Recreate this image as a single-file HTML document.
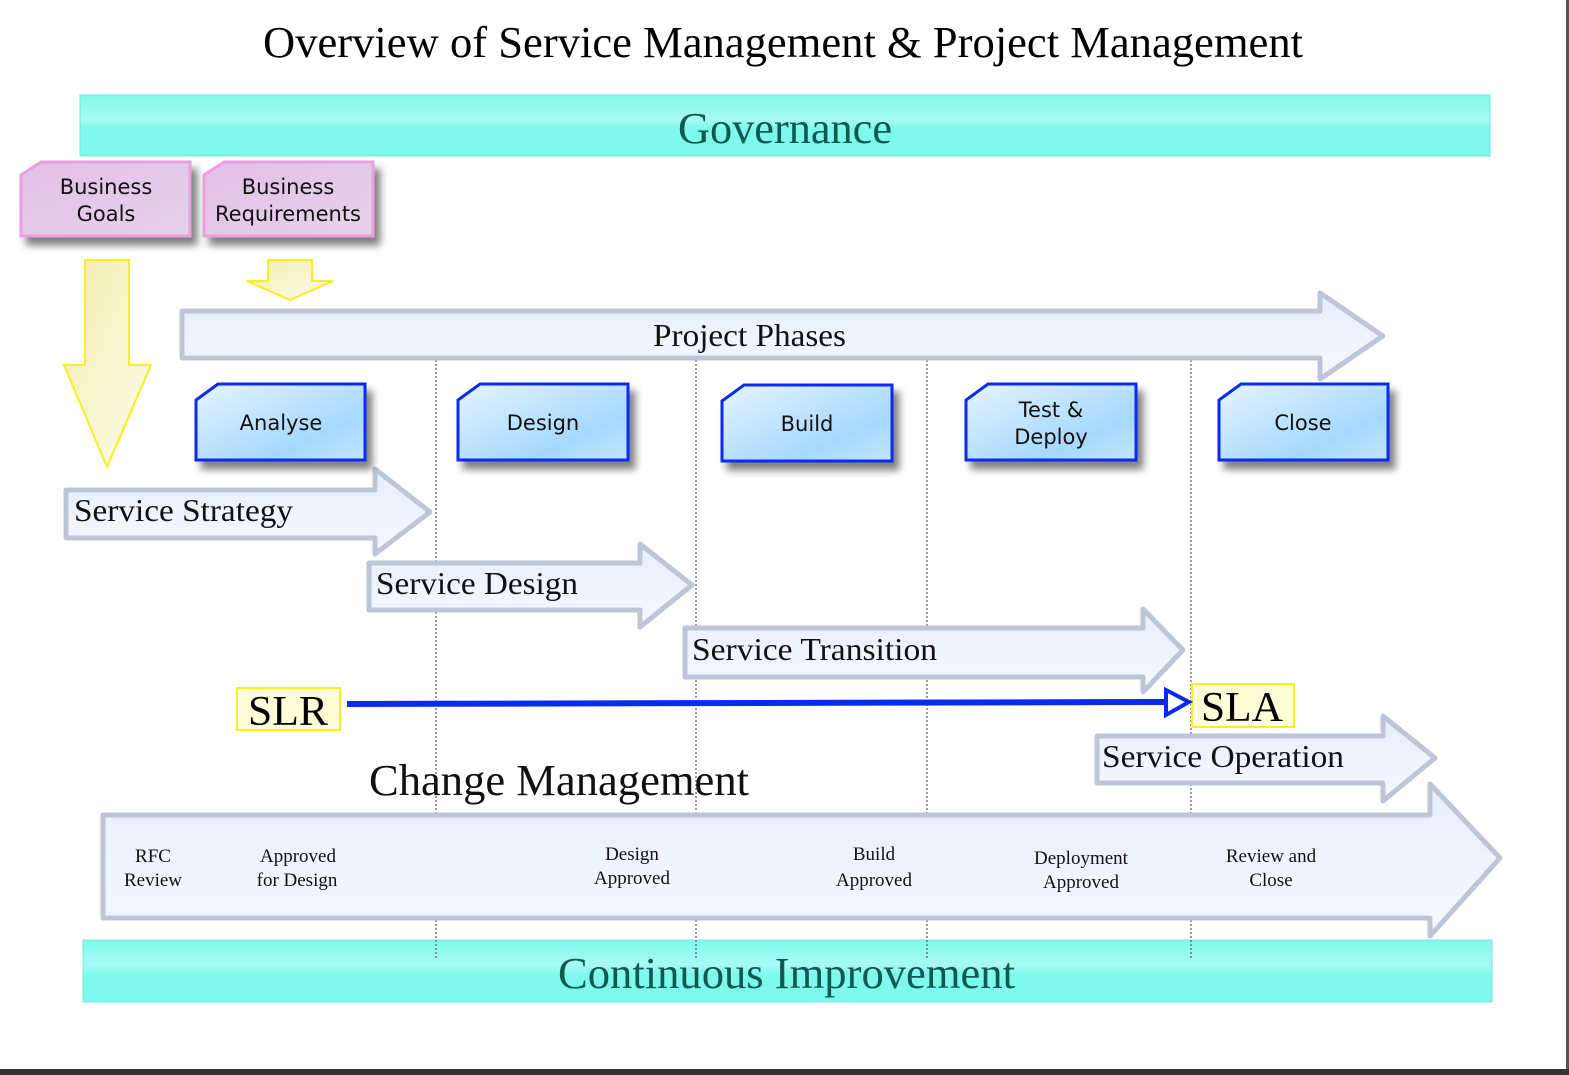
<!DOCTYPE html>
<html><head><meta charset="utf-8"><style>html,body{margin:0;padding:0;background:#fff}svg{display:block}</style></head><body>
<svg width="1569" height="1075" viewBox="0 0 1569 1075" xmlns="http://www.w3.org/2000/svg">
<defs>
<linearGradient id="cy" x1="0" y1="0" x2="0" y2="1"><stop offset="0" stop-color="#7ff8ee"/><stop offset="0.4" stop-color="#a8fbf4"/><stop offset="0.55" stop-color="#7ff8ee"/><stop offset="1" stop-color="#7ff8ee"/></linearGradient>
<linearGradient id="ar" x1="0" y1="0" x2="0" y2="1"><stop offset="0" stop-color="#e6eefc"/><stop offset="1" stop-color="#f6f8fe"/></linearGradient>
<linearGradient id="bl" x1="0" y1="0" x2="1" y2="1"><stop offset="0" stop-color="#e6f4ff"/><stop offset="0.7" stop-color="#a6d8ff"/><stop offset="1" stop-color="#c4e6ff"/></linearGradient>
<linearGradient id="pk" x1="0" y1="0" x2="1" y2="1"><stop offset="0" stop-color="#e3bfe8"/><stop offset="1" stop-color="#e6d3ea"/></linearGradient>
<linearGradient id="yl" x1="0" y1="0" x2="1" y2="1"><stop offset="0" stop-color="#f2eeb0"/><stop offset="1" stop-color="#fcfbe8"/></linearGradient>
<filter id="sh" x="-20%" y="-20%" width="150%" height="160%"><feGaussianBlur in="SourceAlpha" stdDeviation="4"/><feOffset dx="6" dy="8"/><feComponentTransfer><feFuncA type="linear" slope="0.5"/></feComponentTransfer><feMerge><feMergeNode/><feMergeNode in="SourceGraphic"/></feMerge></filter>
</defs>
<rect x="1566" y="0" width="3" height="1075" fill="#555"/>
<rect x="0" y="1069" width="1569" height="6" fill="#333"/>
<text x="263" y="57" font-family="Liberation Serif, serif" font-size="44" textLength="1040" lengthAdjust="spacingAndGlyphs">Overview of Service Management &amp; Project Management</text>
<rect x="80" y="95" width="1410" height="61" fill="url(#cy)" stroke="#6fe8de" stroke-width="1"/>
<text x="678" y="143" font-family="Liberation Serif, serif" font-size="44" fill="#0d5a50" textLength="214" lengthAdjust="spacingAndGlyphs">Governance</text>
<rect x="83" y="940" width="1409" height="62" fill="url(#cy)" stroke="#6fe8de" stroke-width="1"/>
<text x="558" y="988" font-family="Liberation Serif, serif" font-size="44" fill="#0d5a50" textLength="457" lengthAdjust="spacingAndGlyphs">Continuous Improvement</text>
<!-- pink -->
<g filter="url(#sh)" stroke="#e8a0e0" stroke-width="3" fill="url(#pk)">
<polygon points="41,162 190,162 190,236 21,236 21,175"/>
<polygon points="224,162 373,162 373,236 204,236 204,175"/>
</g>
<g font-family="DejaVu Sans, sans-serif" font-size="21" text-anchor="middle" fill="#111">
<text x="106" y="194">Business</text><text x="106" y="221">Goals</text>
<text x="288" y="194">Business</text><text x="288" y="221">Requirements</text>
</g>
<!-- yellow arrows -->
<polygon points="85,260 129,260 129,365 151,365 107,467 64,365 85,365" fill="url(#yl)" stroke="#f5f020" stroke-width="2"/>
<polygon points="268,260 312,260 312,281 333,281 290,300 247,281 268,281" fill="url(#yl)" stroke="#f5f020" stroke-width="2"/>
<!-- dotted lines -->
<g stroke="#666" stroke-width="1.3" stroke-dasharray="2,2">
<line x1="436" y1="360" x2="436" y2="960"/><line x1="696" y1="360" x2="696" y2="960"/>
<line x1="927" y1="360" x2="927" y2="960"/><line x1="1191" y1="360" x2="1191" y2="960"/>
</g>
<!-- gray arrows -->
<g fill="url(#ar)" stroke="#bcc6d6" stroke-width="5" stroke-linejoin="round">
<polygon points="182,311 1320,311 1320,293 1383,336 1320,379 1320,358 182,358"/>
<polygon points="66,490 375,490 375,469 430,512 375,554 375,538 66,538"/>
<polygon points="369,563 640,563 640,544 692,585 640,627 640,610 369,610"/>
<polygon points="685,628 1143,628 1143,609 1183,650 1143,692 1143,677 685,677"/>
<polygon points="1097,736 1383,736 1383,716 1435,758 1383,801 1383,783 1097,783"/>
<polygon points="103,815 1430,815 1430,784 1500,858 1430,936 1430,918 103,918"/>
</g>
<g font-family="Liberation Serif, serif" font-size="32" fill="#111">
<text x="653" y="346" textLength="193" lengthAdjust="spacingAndGlyphs">Project Phases</text>
<text x="74" y="521" textLength="219" lengthAdjust="spacingAndGlyphs">Service Strategy</text>
<text x="376" y="594" textLength="202" lengthAdjust="spacingAndGlyphs">Service Design</text>
<text x="692" y="660" textLength="245" lengthAdjust="spacingAndGlyphs">Service Transition</text>
<text x="1102" y="767" textLength="242" lengthAdjust="spacingAndGlyphs">Service Operation</text>
<text x="369" y="795" font-size="44" textLength="380" lengthAdjust="spacingAndGlyphs">Change Management</text>
</g>
<g font-family="Liberation Serif, serif" font-size="19" fill="#111" text-anchor="middle">
<text x="153" y="862">RFC</text><text x="153" y="886">Review</text>
<text x="298" y="862">Approved</text><text x="297" y="886">for Design</text>
<text x="632" y="860">Design</text><text x="632" y="884">Approved</text>
<text x="874" y="860">Build</text><text x="874" y="886">Approved</text>
<text x="1081" y="864">Deployment</text><text x="1081" y="888">Approved</text>
<text x="1271" y="862">Review and</text><text x="1271" y="886">Close</text>
</g>
<!-- blue boxes -->
<g filter="url(#sh)" stroke="#0a2af0" stroke-width="3" fill="url(#bl)">
<polygon points="218,384 365,384 365,460 196,460 196,400"/>
<polygon points="480,384 628,384 628,460 458,460 458,400"/>
<polygon points="744,385 892,385 892,461 722,461 722,401"/>
<polygon points="988,384 1136,384 1136,460 966,460 966,400"/>
<polygon points="1241,384 1388,384 1388,460 1219,460 1219,400"/>
</g>
<g font-family="DejaVu Sans, sans-serif" font-size="21" text-anchor="middle" fill="#111">
<text x="281" y="430">Analyse</text><text x="543" y="430">Design</text><text x="807" y="431">Build</text>
<text x="1051" y="417">Test &amp;</text><text x="1051" y="444">Deploy</text><text x="1303" y="430">Close</text>
</g>
<!-- SLR / SLA -->
<rect x="237" y="688" width="103" height="42" fill="#fdfdd8" stroke="#f5f020" stroke-width="2"/>
<text x="248" y="725" font-family="Liberation Serif, serif" font-size="42" textLength="80" lengthAdjust="spacingAndGlyphs">SLR</text>
<rect x="1192" y="684" width="102" height="43" fill="#fdfdd8" stroke="#f5f020" stroke-width="2"/>
<text x="1201" y="721" font-family="Liberation Serif, serif" font-size="42" textLength="82" lengthAdjust="spacingAndGlyphs">SLA</text>
<line x1="347" y1="704" x2="1168" y2="702" stroke="#0a2af0" stroke-width="6"/>
<polygon points="1166,690 1189,702 1166,715" fill="#fff" stroke="#0a2af0" stroke-width="4"/>
</svg>
</body></html>
